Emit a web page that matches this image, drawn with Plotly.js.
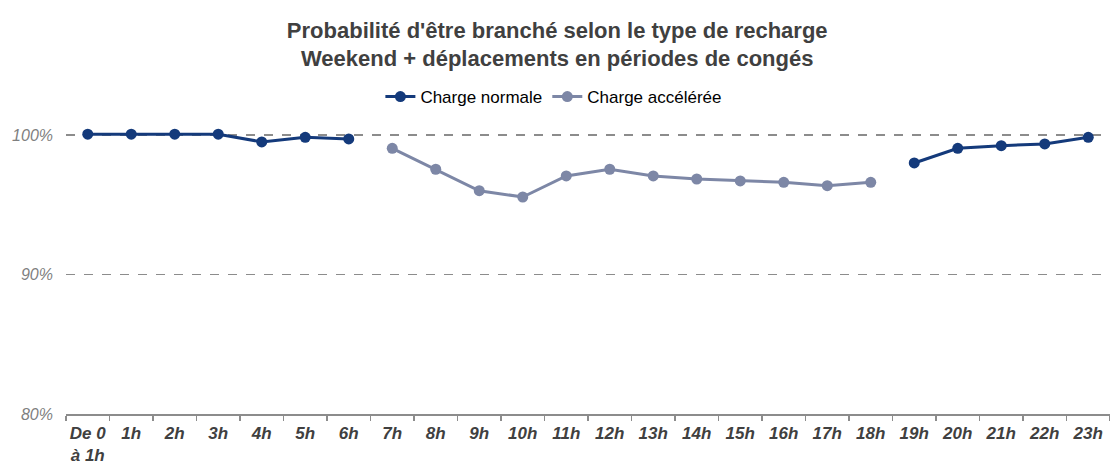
<!DOCTYPE html>
<html>
<head>
<meta charset="utf-8">
<script src="https://cdn.plot.ly/plotly-3.0.1.min.js"></script>
<style>html,body{margin:0;padding:0;background:#fff;}#chart{width:1110px;height:461px;}</style>
</head>
<body>
<div id="chart"></div>
<script>
const categories = ["De 0<br>à 1h","1h","2h","3h","4h","5h","6h","7h","8h","9h","10h","11h","12h","13h","14h","15h","16h","17h","18h","19h","20h","21h","22h","23h"];
const chargeNormale = [100.05,100.05,100.05,100.05,99.5,99.83,99.71,null,null,null,null,null,null,null,null,null,null,null,null,97.99,99.04,99.23,99.35,99.83];
const chargeAcceleree = [null,null,null,null,null,null,null,99.04,97.54,96.0,95.55,97.06,97.54,97.06,96.84,96.7,96.6,96.36,96.6,null,null,null,null,null];
const yTicks = [80,90,100];
const yTickLabels = ["80%","90%","100%"];

const traces = [
  {x: categories, y: chargeNormale, name: "Charge normale", type: "scatter", mode: "lines+markers",
   line: {color: "#143a7b", width: 3}, marker: {color: "#143a7b", size: 11}, connectgaps: false},
  {x: categories, y: chargeAcceleree, name: "Charge accélérée", type: "scatter", mode: "lines+markers",
   line: {color: "#7d87a6", width: 3}, marker: {color: "#7d87a6", size: 11}, connectgaps: false}
];

const layout = {
  width: 1110, height: 461,
  margin: {l: 66, r: 0, t: 107, b: 47, autoexpand: false},
  paper_bgcolor: "#fff", plot_bgcolor: "#fff",
  font: {family: "Liberation Sans, Arial, sans-serif"},
  title: {text: "<b>Probabilité d'être branché selon le type de recharge<br>Weekend + déplacements en périodes de congés</b>",
          font: {size: 22, color: "#404040", family: "Liberation Sans, Arial, sans-serif"},
          x: 0.502, xref: "container", xanchor: "center", y: 1 - 37.5/461, yref: "container", yanchor: "middle"},
  showlegend: true,
  legend: {orientation: "h", x: 0.499, xref: "container", xanchor: "center", y: 1 - 97/461, yref: "container", yanchor: "middle",
           font: {size: 17, color: "#000"}, itemwidth: 30, tracegroupgap: 0, bgcolor: "rgba(0,0,0,0)"},
  xaxis: {type: "category", range: [-0.5, 23.5], showgrid: false, zeroline: false,
          showline: true, linecolor: "#8c8c8c", linewidth: 1.5,
          ticks: "outside", tickson: "boundaries", ticklen: 5, tickcolor: "#8c8c8c", tickwidth: 1.5,
          tickangle: 0, automargin: false,
          tickfont: {size: 17, color: "#404040", weight: "bold", style: "italic"}, ticklabelstandoff: 3},
  yaxis: {range: [80, 102], tickvals: yTicks, ticktext: yTickLabels, showgrid: true, gridcolor: "#8c8c8c", griddash: "dash", gridwidth: 1.2,
          zeroline: false, showline: false, ticks: "",
          tickfont: {size: 16, color: "#7f7f7f", style: "italic"}, ticklabelstandoff: 12}
};

Plotly.newPlot("chart", traces, layout, {displayModeBar: false, staticPlot: true});
</script>
</body>
</html>
